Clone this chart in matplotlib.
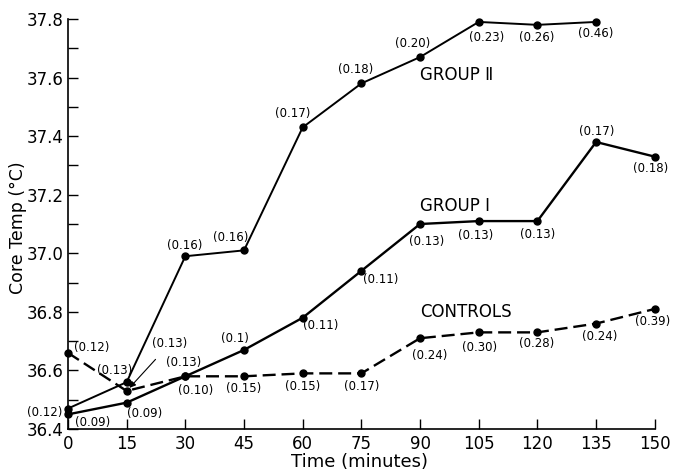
import matplotlib
matplotlib.use("Agg")
import matplotlib.pyplot as plt
from matplotlib.ticker import MultipleLocator, FixedLocator

# 时间点 (minutes)
minutes = [0, 15, 30, 45, 60, 75, 90, 105, 120, 135, 150]

# 各组体温 (°C)
group2_temp = [36.47, 36.56, 36.99, 37.01, 37.43, 37.58, 37.67, 37.79, 37.78, 37.79]
group1_temp = [36.45, 36.49, 36.58, 36.67, 36.78, 36.94, 37.10, 37.11, 37.11, 37.38, 37.33]
control_temp = [36.66, 36.53, 36.58, 36.58, 36.59, 36.59, 36.71, 36.73, 36.73, 36.76, 36.81]

# 括号中的标准误
group2_se = ["(0.12)", "(0.13)", "(0.16)", "(0.16)", "(0.17)", "(0.18)", "(0.20)", "(0.23)", "(0.26)", "(0.46)"]
group1_se = ["(0.09)", "(0.09)", "(0.10)", "(0.1)", "(0.11)", "(0.11)", "(0.13)", "(0.13)", "(0.13)", "(0.17)", "(0.18)"]
control_se = ["(0.12)", "(0.13)", "(0.13)", "(0.15)", "(0.15)", "(0.17)", "(0.24)", "(0.30)", "(0.28)", "(0.24)", "(0.39)"]

yticks = [36.4, 36.6, 36.8, 37.0, 37.2, 37.4, 37.6, 37.8]
ytick_labels = ["36.4", "36.6", "36.8", "37.0", "37.2", "37.4", "37.6", "37.8"]

# 标签偏移 (像素)
g2_off = [(-23, -4), (-12, 12), (-1, 11), (-13, 13), (-10, 14), (-6, 14), (-7, 14), (8, -16), (-1, -13), (0, -12)]
g1_off = [(25, -8), (18, -11), (10, -14), (-9, 11), (18, -8), (19, -9), (7, -17), (-3, -14), (0, -13), (1, 11), (-4, -12)]
c_off = [(24, 5), (43, 47), (-2, 14), (0, -12), (0, -13), (0, -13), (10, -17), (1, -15), (-1, -11), (4, -13), (-2, -13)]

fig = plt.figure(figsize=(6.75, 4.75), dpi=100)
ax = fig.add_axes([0.1007, 0.0968, 0.8693, 0.8632])

ax.plot(minutes[:len(group2_temp)], group2_temp, color="black", lw=1.4,
        marker="o", ms=5, clip_on=False, zorder=3)
ax.plot(minutes, group1_temp, color="black", lw=1.7,
        marker="o", ms=5, clip_on=False, zorder=3)
ax.plot(minutes, control_temp, color="black", lw=1.7, dashes=(5.5, 2.5),
        marker="o", ms=5, clip_on=False, zorder=3)

lab_kw = dict(textcoords="offset pixels", ha="center", va="center",
              fontsize=8.5, annotation_clip=False)
for t, v, s, o in zip(minutes, group2_temp, group2_se, g2_off):
    ax.annotate(s, (t, v), xytext=o, **lab_kw)
for t, v, s, o in zip(minutes, group1_temp, group1_se, g1_off):
    ax.annotate(s, (t, v), xytext=o, **lab_kw)
for i, (t, v, s, o) in enumerate(zip(minutes, control_temp, control_se, c_off)):
    if i == 1:
        # 带箭头的标签
        ax.annotate(s, (t, v), xytext=o, arrowprops=dict(arrowstyle="-|>", lw=0.8,
                    color="black", shrinkA=6, shrinkB=3, mutation_scale=9), **lab_kw)
    else:
        ax.annotate(s, (t, v), xytext=o, **lab_kw)

ax.text(90, 37.61, "GROUP \u2161", fontsize=12, ha="left", va="center")
ax.text(90, 37.16, "GROUP \u2160", fontsize=12, ha="left", va="center")
ax.text(90, 36.80, "CONTROLS", fontsize=12, ha="left", va="center")

ax.set_xlim(0, 150)
ax.set_ylim(36.4, 37.8)
ax.set_xticks(minutes)
ax.set_xticklabels([str(m) for m in minutes], fontsize=12)
ax.yaxis.set_major_locator(FixedLocator(yticks))
ax.set_yticklabels(ytick_labels, fontsize=12)
ax.yaxis.set_minor_locator(MultipleLocator(0.1))
ax.tick_params(axis="both", which="both", direction="in", length=7, width=1)
ax.tick_params(axis="x", pad=4)
ax.tick_params(axis="y", pad=3)

for side in ["top", "right"]:
    ax.spines[side].set_visible(False)
ax.spines["left"].set_linewidth(1.2)
ax.spines["bottom"].set_linewidth(1.2)

ax.set_xlabel("Time (minutes)", fontsize=13)
ax.set_ylabel("Core Temp (\u00b0C)", fontsize=12.5)
ax.xaxis.set_label_coords(0.497, -0.058)
ax.yaxis.set_label_coords(-0.07, 0.49)

fig.savefig("out.png", dpi=100)
